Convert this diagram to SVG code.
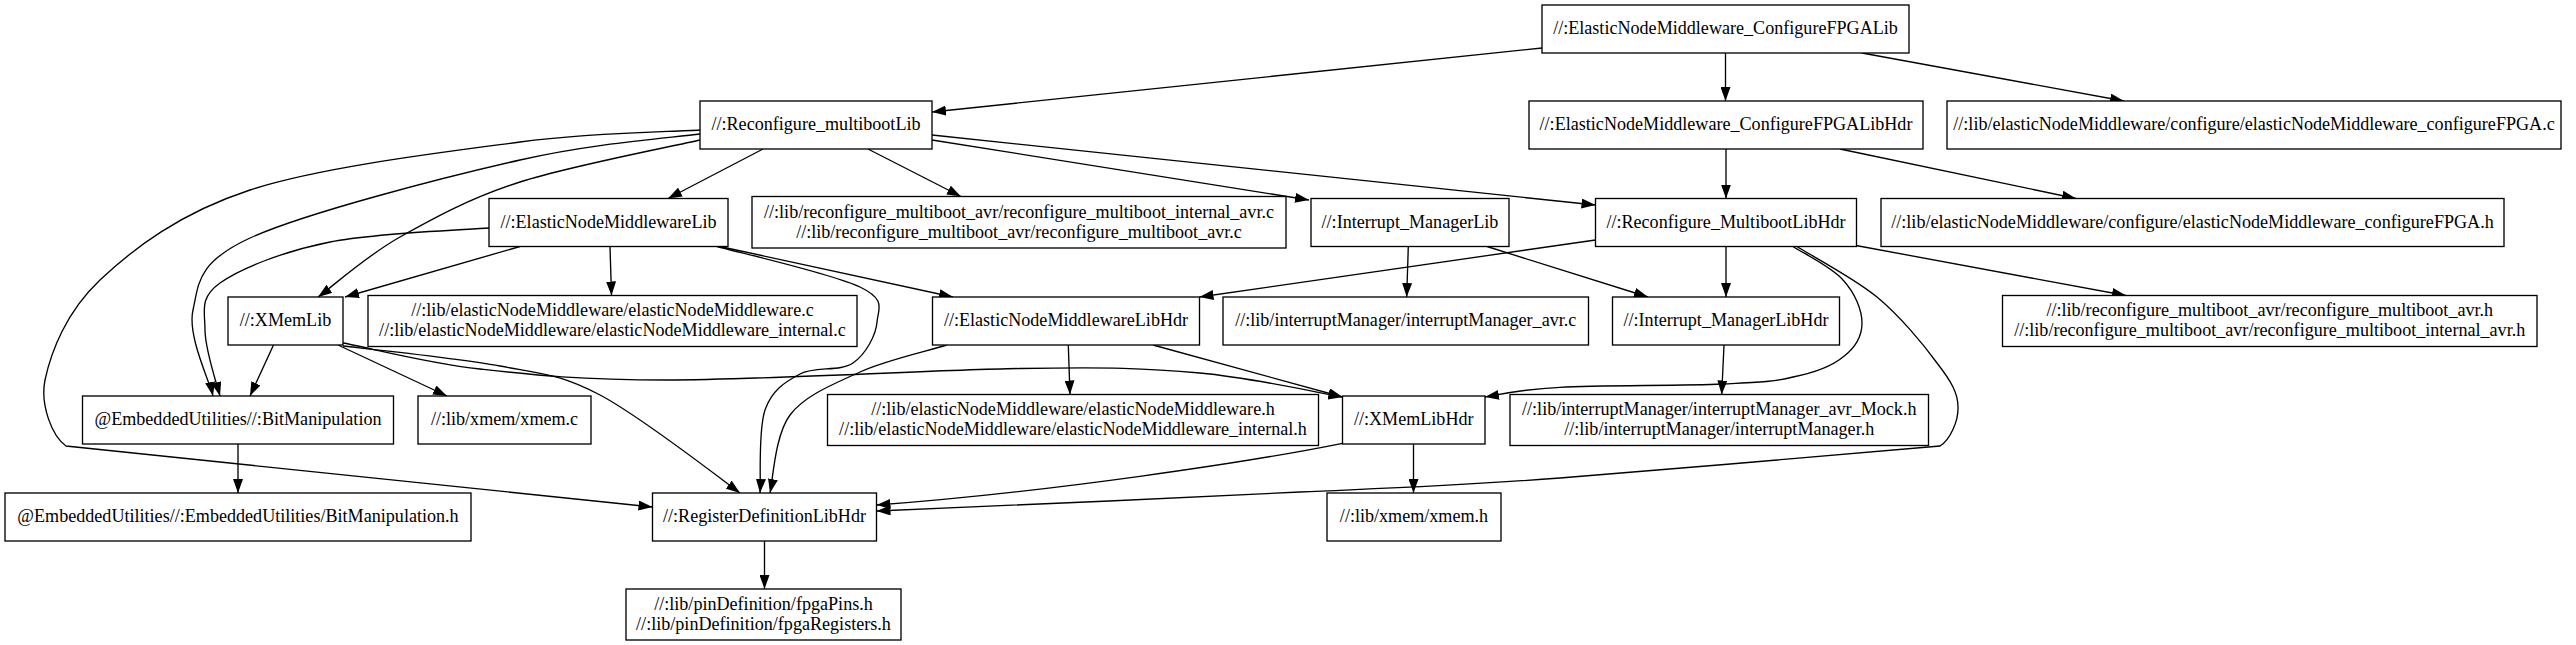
<svg xmlns="http://www.w3.org/2000/svg" width="2576" height="645" viewBox="0 0 2576 645">
<style>
.n rect{fill:#fff;stroke:#000;stroke-width:1.33}
.n text{font-family:"Liberation Serif","Times New Roman",serif;font-size:18.1px;fill:#000;text-anchor:middle}
.e path{fill:none;stroke:#000;stroke-width:1.33;marker-end:url(#ah)}
</style>
<defs>
<marker id="ah" markerUnits="userSpaceOnUse" markerWidth="14" markerHeight="10" refX="14" refY="5" orient="auto"><path d="M0,0 L14,5 L0,10 z" fill="#000"/></marker>
</defs>
<rect width="2576" height="645" fill="#fff"/>
<g id="connectors" class="e">
<path d="M1542,48 L932,112"/>
<path d="M1725.5,53 L1725.5,101"/>
<path d="M1862,53 L2124,101"/>
<path d="M1726,149 L1726,198.5"/>
<path d="M1840,149 L2076,198.5"/>
<path d="M763,149 L668,198.5"/>
<path d="M868,149 L961,196.5"/>
<path d="M932,140 L1309,200"/>
<path d="M932,135 L1595.5,205"/>
<path d="M700,140 C670,147 570,166 520,182 C470,198 434,218 400,237 C366,256 332,287 318,297"/>
<path d="M700,134 C670,138 595,143 520,160 C445,177 305,213 250,238 C196,263 199,284 193,310 C187,336 210,382 213,396"/>
<path d="M700,130 C670,132 595,132 520,142 C445,152 320,167 250,190 C180,213 134,248 100,280 C66,312 51,352 45,380 C40,405 52,436 66,446 L652.5,507"/>
<path d="M520,246.5 L345,297"/>
<path d="M610,246.5 L611.5,295.5"/>
<path d="M720,246.5 L953,297"/>
<path d="M489,228 C462,230 375,233 330,242 C285,251 241,268 220,283 C199,298 205,311 205,330 C205,349 217,385 220,396"/>
<path d="M717,246.5 C741,253 833,274 860,287 C887,300 878,309 877,322 C876,335 866,354 853,363 C840,372 815,366 800,374 C785,382 772,390 765,410 C758,430 761,478 760,493"/>
<path d="M273.5,345 L250,396"/>
<path d="M338,345 L447,396"/>
<path d="M343,346 C369,349 457,358 500,366 C543,374 560,374 600,395 C640,416 717,476 740,493"/>
<path d="M343,343 C366,347 426,363 480,369 C534,375 577,380 667,380 C757,380 931,370 1020,368.5 C1109,367 1146,368 1200,373 C1254,378 1319,393 1342.5,397"/>
<path d="M946.7,345 C932,350 886,360 860,372 C834,384 805,395 790,415 C775,435 773,479 770,493"/>
<path d="M1068.3,345 L1070,394.5"/>
<path d="M1153,345 L1342.5,397"/>
<path d="M1408.3,246.5 L1406.7,297"/>
<path d="M1487,246.5 L1648,297"/>
<path d="M1595.5,240 L1199.5,297"/>
<path d="M1726,246.5 L1726,297"/>
<path d="M1856,245.5 L2126,295.5"/>
<path d="M1793,246.5 C1801,252 1832,267 1843,280 C1855,293 1862,310 1862,323 C1862,336 1855,348 1843,357 C1832,366 1813,373 1793,377 C1773,382 1761,382 1722,384 C1683,386 1600,385 1560,387.3 C1521,389 1498,395 1485,397"/>
<path d="M1797,246.5 C1810,255 1854,278 1877,297 C1900,316 1924,345 1937,363 C1951,381 1958,393 1958,407 C1958.5,421 1950,440 1940,446 C1877,451 1667,470 1560,478 C1453,486 1414,487 1300,492 C1186,498 947,508 876.5,511"/>
<path d="M1724,345 L1721.7,394.5"/>
<path d="M1413.5,444 L1413.5,493"/>
<path d="M1342.5,443.3 C1250,462 1050,492 876.5,505"/>
<path d="M238,444 L238,493"/>
<path d="M764.5,541 L764.5,589"/>
</g>
<g id="n1" class="n"><rect x="1542" y="5" width="367" height="48"/><text x="1725.5" y="34">//:ElasticNodeMiddleware_ConfigureFPGALib</text></g>
<g id="n2" class="n"><rect x="700" y="101" width="232" height="48"/><text x="816" y="130">//:Reconfigure_multibootLib</text></g>
<g id="n3" class="n"><rect x="1529" y="101" width="394" height="48"/><text x="1726" y="130">//:ElasticNodeMiddleware_ConfigureFPGALibHdr</text></g>
<g id="n4" class="n"><rect x="1947" y="101" width="614" height="48"/><text x="2254" y="130">//:lib/elasticNodeMiddleware/configure/elasticNodeMiddleware_configureFPGA.c</text></g>
<g id="n5" class="n"><rect x="489" y="198.5" width="239" height="48"/><text x="608.5" y="227.5">//:ElasticNodeMiddlewareLib</text></g>
<g id="n6" class="n"><rect x="752" y="196.5" width="534" height="51.5"/><text x="1019" y="217.5">//:lib/reconfigure_multiboot_avr/reconfigure_multiboot_internal_avr.c</text><text x="1019" y="237.5">//:lib/reconfigure_multiboot_avr/reconfigure_multiboot_avr.c</text></g>
<g id="n7" class="n"><rect x="1311" y="198.5" width="198" height="48"/><text x="1410" y="227.5">//:Interrupt_ManagerLib</text></g>
<g id="n8" class="n"><rect x="1595.5" y="198.5" width="261" height="48"/><text x="1726" y="227.5">//:Reconfigure_MultibootLibHdr</text></g>
<g id="n9" class="n"><rect x="1881" y="198.5" width="623" height="48"/><text x="2192.5" y="227.5">//:lib/elasticNodeMiddleware/configure/elasticNodeMiddleware_configureFPGA.h</text></g>
<g id="n10" class="n"><rect x="228" y="297" width="115" height="48"/><text x="285.5" y="326">//:XMemLib</text></g>
<g id="n11" class="n"><rect x="368" y="295.5" width="489" height="51"/><text x="612.5" y="316">//:lib/elasticNodeMiddleware/elasticNodeMiddleware.c</text><text x="612.5" y="336">//:lib/elasticNodeMiddleware/elasticNodeMiddleware_internal.c</text></g>
<g id="n12" class="n"><rect x="932.5" y="297" width="267" height="48"/><text x="1066" y="326">//:ElasticNodeMiddlewareLibHdr</text></g>
<g id="n13" class="n"><rect x="1223" y="297" width="365.5" height="48"/><text x="1405.75" y="326">//:lib/interruptManager/interruptManager_avr.c</text></g>
<g id="n14" class="n"><rect x="1612.5" y="297" width="227" height="48"/><text x="1726" y="326">//:Interrupt_ManagerLibHdr</text></g>
<g id="n15" class="n"><rect x="2002.5" y="295.5" width="534.5" height="51"/><text x="2269.75" y="316">//:lib/reconfigure_multiboot_avr/reconfigure_multiboot_avr.h</text><text x="2269.75" y="336">//:lib/reconfigure_multiboot_avr/reconfigure_multiboot_internal_avr.h</text></g>
<g id="n16" class="n"><rect x="82.5" y="396" width="311" height="48"/><text x="238" y="425">@EmbeddedUtilities//:BitManipulation</text></g>
<g id="n17" class="n"><rect x="418" y="396" width="173" height="48"/><text x="504.5" y="425">//:lib/xmem/xmem.c</text></g>
<g id="n18" class="n"><rect x="827.5" y="394.5" width="491" height="51"/><text x="1073" y="415">//:lib/elasticNodeMiddleware/elasticNodeMiddleware.h</text><text x="1073" y="435">//:lib/elasticNodeMiddleware/elasticNodeMiddleware_internal.h</text></g>
<g id="n19" class="n"><rect x="1342.5" y="396" width="142.5" height="48"/><text x="1413.75" y="425">//:XMemLibHdr</text></g>
<g id="n20" class="n"><rect x="1510" y="394.5" width="418.5" height="51"/><text x="1719.25" y="415">//:lib/interruptManager/interruptManager_avr_Mock.h</text><text x="1719.25" y="435">//:lib/interruptManager/interruptManager.h</text></g>
<g id="n21" class="n"><rect x="5" y="493" width="466" height="48"/><text x="238" y="522">@EmbeddedUtilities//:EmbeddedUtilities/BitManipulation.h</text></g>
<g id="n22" class="n"><rect x="652.5" y="493" width="224" height="48"/><text x="764.5" y="522">//:RegisterDefinitionLibHdr</text></g>
<g id="n23" class="n"><rect x="1327" y="493" width="174" height="48"/><text x="1414" y="522">//:lib/xmem/xmem.h</text></g>
<g id="n24" class="n"><rect x="626" y="589" width="275" height="51"/><text x="763.5" y="609.5">//:lib/pinDefinition/fpgaPins.h</text><text x="763.5" y="629.5">//:lib/pinDefinition/fpgaRegisters.h</text></g>
</svg>
